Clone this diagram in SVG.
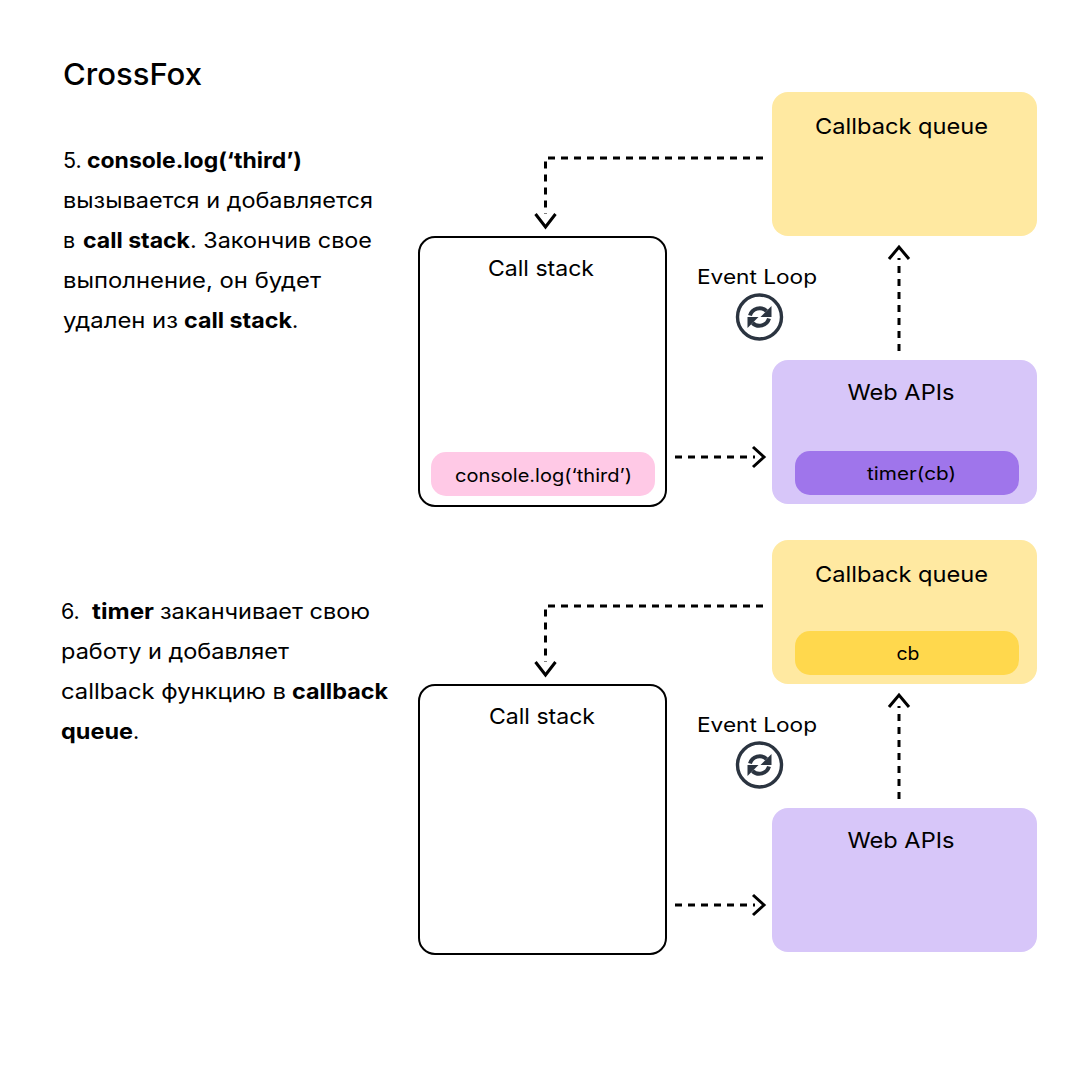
<svg xmlns="http://www.w3.org/2000/svg" width="1080" height="1080" viewBox="0 0 1080 1080">
<style>
text{font-family:"Inter","Noto Sans","Liberation Sans",sans-serif;fill:#000}
.h{font-size:22px;text-anchor:middle}
.p{font-size:18px;text-anchor:middle}
.e{font-size:20px;text-anchor:middle}
.b{font-size:21.5px}
.s{font-weight:700}
.d{fill:none;stroke:#000;stroke-width:3;stroke-dasharray:7 6}
.c{fill:none;stroke:#000;stroke-width:3}
.stack{fill:#fff;stroke:#000;stroke-width:2}
.q{fill:#ffe9a1}
.w{fill:#d7c6f9}
.i{fill:none;stroke:#2b3440;stroke-width:3.4}
.a{fill:none;stroke:#2b3440;stroke-width:4}
.t{fill:#2b3440}
</style>
<defs>
<g id="loop">
<circle class="i" cx="0" cy="0" r="22"/>
<path class="a" d="M-9.500 -1.500A10 10 0 0 1 7 -6"/>
<path class="t" d="M12 -11V0H1Z"/>
<path class="a" d="M9.500 1.500A10 10 0 0 1 -7 6"/>
<path class="t" d="M-12 11V0H-1Z"/>
</g>
</defs>
<rect width="1080" height="1080" fill="#fff"/>
<text x="63" y="85" font-size="30" font-weight="500" textLength="139" lengthAdjust="spacingAndGlyphs">CrossFox</text>

<g id="text-5">
<text class="b" x="63" y="168">5.</text>
<text class="b s" x="87" y="168" textLength="215" lengthAdjust="spacingAndGlyphs">console.log(‘third’)</text>
<text class="b" x="63" y="208" textLength="310" lengthAdjust="spacingAndGlyphs">вызывается и добавляется</text>
<text class="b" x="63" y="248">в</text>
<text class="b s" x="83" y="248" textLength="107" lengthAdjust="spacingAndGlyphs">call stack</text>
<text class="b" x="190" y="248" textLength="182" lengthAdjust="spacingAndGlyphs">. Закончив свое</text>
<text class="b" x="63" y="288" textLength="258" lengthAdjust="spacingAndGlyphs">выполнение, он будет</text>
<text class="b" x="63" y="328" textLength="115" lengthAdjust="spacingAndGlyphs">удален из</text>
<text class="b s" x="184" y="328" textLength="108" lengthAdjust="spacingAndGlyphs">call stack</text>
<text class="b" x="292" y="328">.</text>
</g>
<g id="text-6">
<text class="b" x="61" y="619">6.</text>
<text class="b s" x="92" y="619" textLength="62" lengthAdjust="spacingAndGlyphs">timer</text>
<text class="b" x="160" y="619" textLength="210" lengthAdjust="spacingAndGlyphs">заканчивает свою</text>
<text class="b" x="61" y="659" textLength="228" lengthAdjust="spacingAndGlyphs">работу и добавляет</text>
<text class="b" x="61" y="699" textLength="225" lengthAdjust="spacingAndGlyphs">callback функцию в</text>
<text class="b s" x="292" y="699" textLength="96" lengthAdjust="spacingAndGlyphs">callback</text>
<text class="b s" x="61" y="739" textLength="72" lengthAdjust="spacingAndGlyphs">queue</text>
<text class="b" x="133" y="739">.</text>
</g>

<g id="connectors">
<path class="d" d="M763 158H545.500V214"/>
<path class="c" d="M535.500 214L545.500 227L555.500 214"/>
<path class="d" d="M675 457H755"/>
<path class="c" d="M753 447L764 457L753 467"/>
<path class="d" d="M899 351V258"/>
<path class="c" d="M889 259L899 247L909 259"/>
<path class="d" d="M763 606H545.500V662"/>
<path class="c" d="M535.500 662L545.500 675L555.500 662"/>
<path class="d" d="M675 905H755"/>
<path class="c" d="M753 895L764 905L753 915"/>
<path class="d" d="M899 799V706"/>
<path class="c" d="M889 707L899 695L909 707"/>
</g>

<g id="callback-1"><rect class="q" x="772" y="92" width="265" height="144" rx="16"/><text class="h" x="901.500" y="134" textLength="173" lengthAdjust="spacingAndGlyphs">Callback queue</text></g>
<g id="stack-1"><rect class="stack" x="419" y="237" width="247" height="269" rx="16"/><text class="h" x="541" y="276" textLength="106" lengthAdjust="spacingAndGlyphs">Call stack</text>
<rect x="431" y="452" width="224" height="44" rx="15" fill="#ffc9e6"/><text class="p" x="543.500" y="482" textLength="177" lengthAdjust="spacingAndGlyphs">console.log(‘third’)</text></g>
<g id="web-1"><rect class="w" x="772" y="360" width="265" height="144" rx="16"/><text class="h" x="901" y="400" textLength="107" lengthAdjust="spacingAndGlyphs">Web APIs</text>
<rect x="795" y="451" width="224" height="44" rx="15" fill="#9f75eb"/><text class="p" x="911.500" y="480" textLength="89" lengthAdjust="spacingAndGlyphs">timer(cb)</text></g>
<g id="loop-1"><text class="e" x="757" y="284" textLength="120" lengthAdjust="spacingAndGlyphs">Event Loop</text><use href="#loop" x="759.500" y="317"/></g>

<g id="callback-2"><rect class="q" x="772" y="540" width="265" height="144" rx="16"/><text class="h" x="901.500" y="582" textLength="173" lengthAdjust="spacingAndGlyphs">Callback queue</text>
<rect x="795" y="631" width="224" height="44" rx="15" fill="#ffd84d"/><text class="p" x="908" y="660" textLength="23" lengthAdjust="spacingAndGlyphs">cb</text></g>
<g id="stack-2"><rect class="stack" x="419" y="685" width="247" height="269" rx="16"/><text class="h" x="542" y="724" textLength="106" lengthAdjust="spacingAndGlyphs">Call stack</text></g>
<g id="web-2"><rect class="w" x="772" y="808" width="265" height="144" rx="16"/><text class="h" x="901" y="848" textLength="107" lengthAdjust="spacingAndGlyphs">Web APIs</text></g>
<g id="loop-2"><text class="e" x="757" y="732" textLength="120" lengthAdjust="spacingAndGlyphs">Event Loop</text><use href="#loop" x="759.500" y="765"/></g>
</svg>
